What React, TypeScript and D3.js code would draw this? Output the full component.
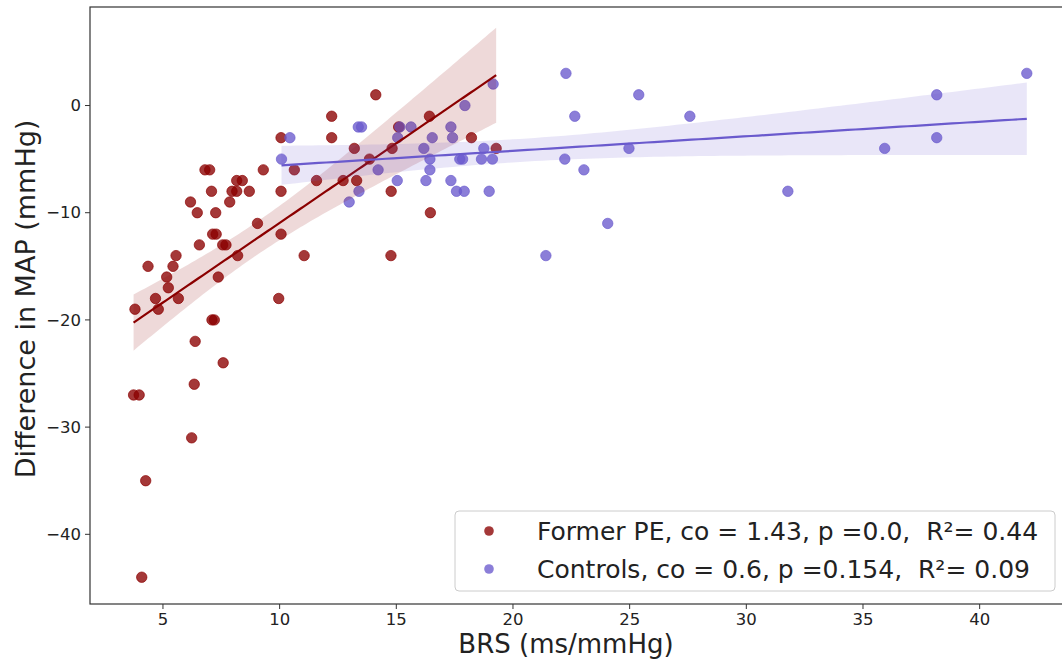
import React from "react";
import * as d3 from "d3";

// ---- data ----
const peX = [3.8, 3.74, 3.98, 4.26, 4.09, 4.36, 4.68, 4.8, 5.16, 5.23, 5.43, 5.56, 5.66, 6.18, 6.47, 6.56, 6.38, 6.34, 6.23, 6.8, 7.0, 7.08, 7.26, 7.13, 7.28, 7.1, 7.2, 7.37, 7.56, 7.7, 7.58, 7.86, 7.96, 8.16, 8.16, 8.4, 8.2, 8.7, 9.05, 9.3, 9.96, 10.06, 10.06, 10.06, 10.63, 11.05, 11.58, 12.23, 12.23, 12.72, 13.3, 13.2, 14.12, 13.85, 14.78, 14.77, 14.82, 15.1, 16.42, 16.46, 18.22, 19.28];
const peY = [-19, -27, -27, -35, -44, -15, -18, -19, -16, -17, -15, -14, -18, -9, -10, -13, -22, -26, -31, -6, -6, -8, -10, -12, -12, -20, -20, -16, -13, -13, -24, -9, -8, -8, -7, -7, -14, -8, -11, -6, -18, -12, -8, -3, -6, -14, -7, -1, -3, -7, -7, -4, 1, -5, -8, -14, -4, -2, -1, -10, -3, -4];

const ctX = [10.08, 10.44, 12.98, 13.37, 13.51, 13.4, 14.22, 15.06, 15.15, 15.63, 15.04, 16.18, 16.27, 16.44, 16.44, 16.54, 17.34, 17.41, 17.34, 17.58, 17.91, 17.72, 17.84, 17.94, 18.75, 18.65, 19.12, 18.98, 19.15, 21.41, 22.27, 22.22, 22.65, 23.04, 24.06, 24.97, 25.39, 27.58, 31.78, 35.93, 38.16, 38.16, 42.02];
const ctY = [-5, -3, -9, -2, -2, -8, -6, -3, -2, -2, -7, -4, -7, -5, -6, -3, -2, -3, -7, -8, -8, -5, -5, 0, -4, -5, -5, -8, 2, -14, 3, -5, -1, -6, -11, -4, 1, -1, -8, -4, 1, -3, 3];

const xTicks = [5, 10, 15, 20, 25, 30, 35, 40];
const yTicks = [0, -10, -20, -30, -40];
const legendLabels = [
  "Former PE, co = 1.43, p =0.0,  R²= 0.44",
  "Controls, co = 0.6, p =0.154,  R²= 0.09",
];
const xLabel = "BRS (ms/mmHg)";
const yLabel = "Difference in MAP (mmHg)";

// ---- layout ----
const W = 1062, H = 661;
const L = 90, T = 7, R = 1073, B = 604;
const FONT = "'DejaVu Sans', Verdana, sans-serif";

const RED = "#8b0000";
const BLUE = "#6a5acd";

function regression(xs: number[], ys: number[], t: number) {
  const n = xs.length;
  const mx = d3.mean(xs)!;
  const my = d3.mean(ys)!;
  let sxx = 0, sxy = 0;
  for (let i = 0; i < n; i++) {
    sxx += (xs[i] - mx) ** 2;
    sxy += (xs[i] - mx) * (ys[i] - my);
  }
  const b = sxy / sxx;
  const a = my - b * mx;
  let sse = 0;
  for (let i = 0; i < n; i++) sse += (ys[i] - (a + b * xs[i])) ** 2;
  const s = Math.sqrt(sse / (n - 2));
  const [x0, x1] = d3.extent(xs) as [number, number];
  const grid = d3.range(0, 101).map((k) => x0 + ((x1 - x0) * k) / 100);
  return grid.map((x) => {
    const yh = a + b * x;
    const half = t * s * Math.sqrt(1 / n + (x - mx) ** 2 / sxx);
    return { x, y: yh, lo: yh - half, hi: yh + half };
  });
}

export default function App() {
  const x = d3.scaleLinear().domain([1.873, 44.0]).range([L, R]);
  const y = d3.scaleLinear().domain([-46.5, 9.19]).range([B, T]);

  const peFit = regression(peX, peY, 1.85);
  const ctFit = regression(ctX, ctY, 2.02);

  const area = d3
    .area<{ x: number; lo: number; hi: number }>()
    .x((d) => x(d.x))
    .y0((d) => y(d.lo))
    .y1((d) => y(d.hi));
  const line = d3
    .line<{ x: number; y: number }>()
    .x((d) => x(d.x))
    .y((d) => y(d.y));

  return (
    <div style={{ position: "absolute", left: 0, top: 0 }}>
      <svg width={W} height={H} style={{ display: "block", background: "#fff" }}>
        <defs>
          <clipPath id="plotclip">
            <rect x={L} y={T} width={R - L} height={B - T} />
          </clipPath>
        </defs>
        <g clipPath="url(#plotclip)">
          {peX.map((v, i) => (
            <circle key={"p" + i} cx={x(v)} cy={y(peY[i])} r={5.2} fill={RED} fillOpacity={0.78} stroke={RED} strokeOpacity={0.85} strokeWidth={0.8} />
          ))}
          {ctX.map((v, i) => (
            <circle key={"c" + i} cx={x(v)} cy={y(ctY[i])} r={5.2} fill={BLUE} fillOpacity={0.78} stroke={BLUE} strokeOpacity={0.85} strokeWidth={0.8} />
          ))}
          <path d={area(peFit) || ""} fill={RED} fillOpacity={0.15} />
          <path d={line(peFit) || ""} fill="none" stroke={RED} strokeWidth={2.2} />
          <path d={area(ctFit) || ""} fill={BLUE} fillOpacity={0.15} />
          <path d={line(ctFit) || ""} fill="none" stroke={BLUE} strokeWidth={2.2} />
        </g>

        <rect x={L} y={T} width={R - L} height={B - T} fill="none" stroke="#333" strokeWidth={1.2} />

        {xTicks.map((t) => (
          <g key={"xt" + t} transform={`translate(${x(t)},${B})`}>
            <line y1={0} y2={5} stroke="#333" strokeWidth={1} />
            <text y={21} textAnchor="middle" fontFamily={FONT} fontSize={16.5} fill="#222">
              {t}
            </text>
          </g>
        ))}
        {yTicks.map((t) => (
          <g key={"yt" + t} transform={`translate(${L},${y(t)})`}>
            <line x1={0} x2={-5} stroke="#333" strokeWidth={1} />
            <text x={-9} dy="0.35em" textAnchor="end" fontFamily={FONT} fontSize={16.5} fill="#222">
              {t < 0 ? "\u2212" + Math.abs(t) : t}
            </text>
          </g>
        ))}

        <text x={566} y={653} textAnchor="middle" fontFamily={FONT} fontSize={26} fill="#222">
          {xLabel}
        </text>
        <text transform={`translate(35,299) rotate(-90)`} textAnchor="middle" fontFamily={FONT} fontSize={27} fill="#222">
          {yLabel}
        </text>

        <g>
          <rect x={455} y={511} width={600} height={80} rx={4} fill="#fff" fillOpacity={0.85} stroke="#ccc" strokeWidth={1} />
          {legendLabels.map((lab, i) => (
            <g key={"lg" + i} transform={`translate(0,${531 + i * 38})`}>
              <circle cx={489} cy={0} r={4.8} fill={i === 0 ? RED : BLUE} fillOpacity={0.78} />
              <text x={537} dy="0.35em" fontFamily={FONT} fontSize={25} fill="#222" style={{ whiteSpace: "pre" }}>
                {lab}
              </text>
            </g>
          ))}
        </g>
      </svg>
    </div>
  );
}
